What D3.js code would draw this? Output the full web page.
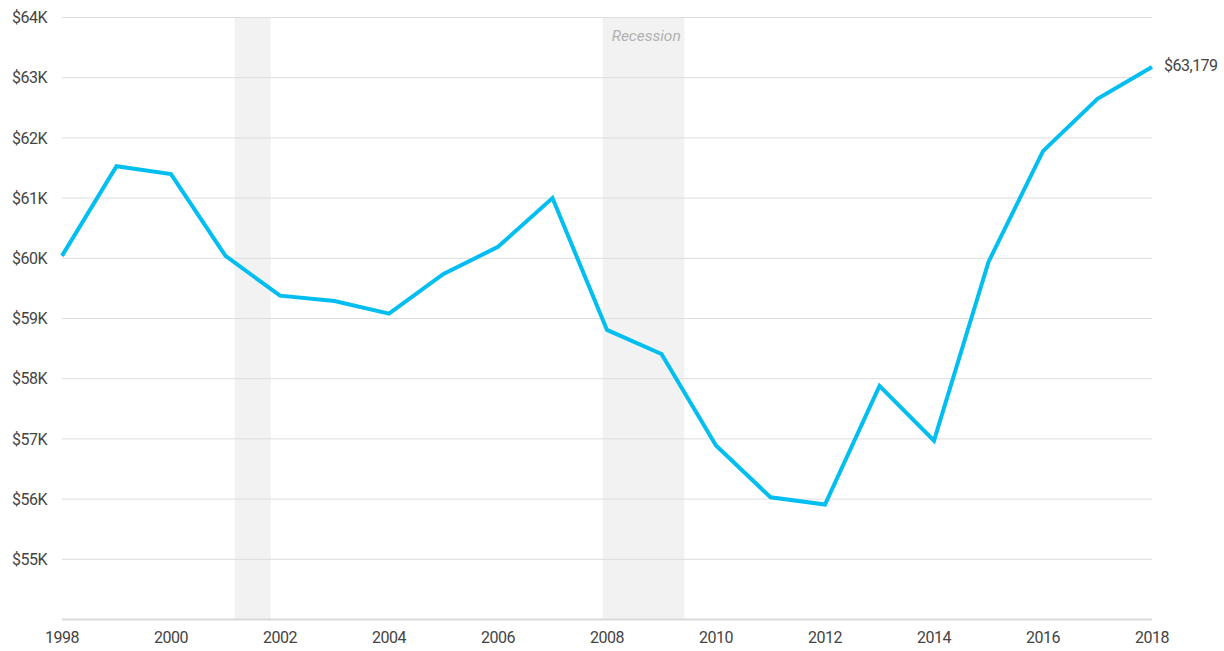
<!DOCTYPE html>
<html>
<head>
<meta charset="utf-8">
<script src="https://cdn.jsdelivr.net/npm/d3@7"></script>
<style>
  body { margin: 0; background: #fff; }
  text { font-family: Roboto, sans-serif; }
</style>
</head>
<body>
<div class="chart"></div>
<script>
// median household income
var years = [1998, 1999, 2000, 2001, 2002, 2003, 2004, 2005, 2006, 2007, 2008,
             2009, 2010, 2011, 2012, 2013, 2014, 2015, 2016, 2017, 2018];
var income = [60040, 61530, 61400, 60040, 59380, 59290, 59080, 59740, 60190, 61000, 58810,
              58410, 56890, 56030, 55910, 57880, 56970, 59940, 61780, 62650, 63179];
var recessions = [[2001.17, 2001.83], [2007.92, 2009.42]];
var yTicks = [55000, 56000, 57000, 58000, 59000, 60000, 61000, 62000, 63000, 64000];
var xTicks = [1998, 2000, 2002, 2004, 2006, 2008, 2010, 2012, 2014, 2016, 2018];

var width = 1224, height = 651;
var margin = {top: 17.5, right: 72, bottom: 31.5, left: 62};

var svg = d3.select(".chart")
  .append("svg")
    .attr("width", width)
    .attr("height", height);

var x = d3.scaleLinear()
  .domain([1998, 2018])
  .range([margin.left, width - margin.right]);

var y = d3.scaleLinear()
  .domain([54000, 64000])
  .range([height - margin.bottom, margin.top]);

// recession bands
svg.selectAll(".recession")
  .data(recessions)
  .enter().append("rect")
    .attr("class", "recession")
    .attr("x", function(d) { return x(d[0]); })
    .attr("width", function(d) { return x(d[1]) - x(d[0]); })
    .attr("y", y(64000))
    .attr("height", y(54000) - y(64000))
    .style("fill", "#f2f2f2");

svg.append("text")
  .attr("x", x(recessions[1][0]) + 9)
  .attr("y", 41)
  .style("font-size", "15.5px")
  .style("font-style", "italic")
  .style("fill", "#b0b0b0")
  .text("Recession");

// gridlines
svg.selectAll(".grid")
  .data(yTicks)
  .enter().append("line")
    .attr("class", "grid")
    .attr("x1", x(1998))
    .attr("x2", x(2018))
    .attr("y1", function(d) { return y(d); })
    .attr("y2", function(d) { return y(d); })
    .style("stroke", "#dddddd")
    .style("stroke-width", 1);

svg.append("line")
  .attr("x1", x(1998))
  .attr("x2", x(2018))
  .attr("y1", y(54000))
  .attr("y2", y(54000))
  .style("stroke", "#d9d9d9")
  .style("stroke-width", 2);

// y labels
svg.selectAll(".ylab")
  .data(yTicks)
  .enter().append("text")
    .attr("class", "ylab")
    .attr("x", 47)
    .attr("y", function(d) { return y(d); })
    .attr("dy", "0.35em")
    .style("text-anchor", "end")
    .style("font-size", "16px")
    .style("letter-spacing", "-0.5px")
    .style("fill", "#444")
    .text(function(d) { return "$" + d / 1000 + "K"; });

// x labels
svg.selectAll(".xlab")
  .data(xTicks)
  .enter().append("text")
    .attr("class", "xlab")
    .attr("x", function(d) { return x(d); })
    .attr("y", 643)
    .style("text-anchor", "middle")
    .style("font-size", "16px")
    .style("letter-spacing", "-0.5px")
    .style("fill", "#444")
    .text(function(d) { return d; });

// the line
var line = d3.line()
  .x(function(d, i) { return x(years[i]); })
  .y(function(d) { return y(d); });

svg.append("path")
  .datum(income)
  .attr("d", line)
  .style("fill", "none")
  .style("stroke", "#00bff0")
  .style("stroke-width", 4)
  .style("stroke-linejoin", "miter");

var last = income[income.length - 1];
svg.append("text")
  .attr("x", x(2018) + 12)
  .attr("y", y(last) - 2)
  .attr("dy", "0.35em")
  .style("font-size", "16px")
  .style("letter-spacing", "-0.5px")
  .style("fill", "#444")
  .text("$" + d3.format(",")(last));
</script>
</body>
</html>
